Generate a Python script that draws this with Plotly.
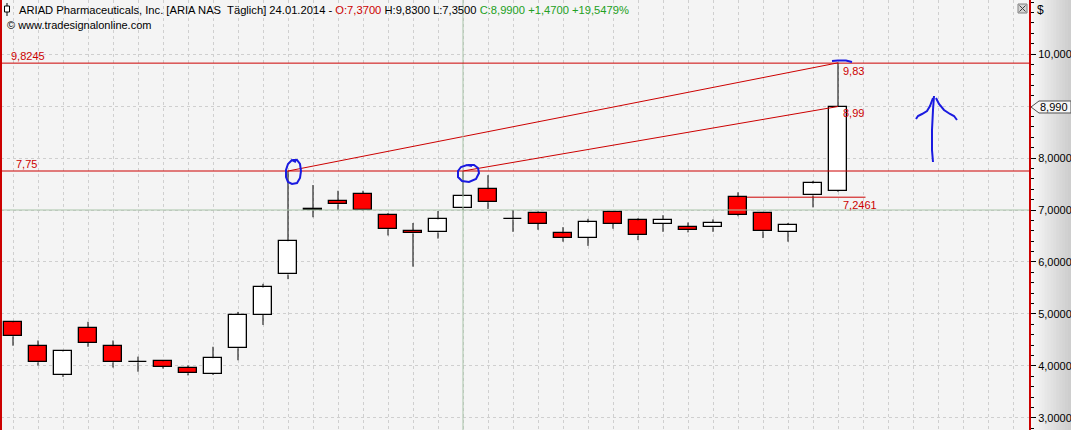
import plotly.graph_objects as go

# ---------------- data ----------------
opens  = [4.84, 4.38, 3.83, 4.74, 4.38, 4.07, 4.09, 3.96, 3.85, 4.34, 4.98, 5.76,
          7.00, 7.17, 7.31, 6.90, 6.60, 6.57, 7.03, 7.40, 6.82, 6.94, 6.55, 6.47,
          6.96, 6.80, 6.73, 6.67, 6.67, 7.2461, 6.94, 6.58, 7.28, 7.37]
highs  = [4.85, 4.49, 4.30, 4.85, 4.49, 4.18, 4.10, 4.01, 4.37, 5.04, 5.58, 7.75,
          7.48, 7.37, 7.37, 6.94, 6.75, 6.98, 7.75, 7.67, 7.00, 6.97, 6.67, 6.83,
          6.98, 6.84, 6.90, 6.76, 6.82, 7.34, 6.96, 6.75, 7.56, 9.83]
lows   = [4.39, 4.01, 3.79, 4.37, 3.97, 3.89, 3.95, 3.82, 3.83, 4.11, 4.79, 5.67,
          6.86, 7.00, 6.99, 6.51, 5.91, 6.45, 7.00, 7.02, 6.58, 6.62, 6.39, 6.31,
          6.64, 6.42, 6.58, 6.57, 6.58, 6.88, 6.46, 6.39, 7.05, 7.35]
closes = [4.57, 4.07, 4.28, 4.44, 4.07, 4.08, 3.98, 3.86, 4.15, 4.98, 5.51, 6.40,
          7.01, 7.11, 7.00, 6.63, 6.55, 6.82, 7.26, 7.15, 6.83, 6.73, 6.46, 6.76,
          6.73, 6.51, 6.81, 6.61, 6.75, 6.90, 6.59, 6.71, 7.51, 8.99]

level_top = 9.8245
level_mid = 7.75
level_low = 7.2461
cross_y = 7.0
cross_x = 18
trend_a = (11, 33)          # from high of candle 11 to high of candle 33
trend_b = (18, 33)          # from high of candle 18 to close of candle 33
level_low_idx = 29

ytick_vals = [3, 4, 5, 6, 7, 8, 9, 10]
ytick_text = ["3,0000", "4,0000", "5,0000", "6,0000", "7,0000", "8,0000", "", "10,000"]
last_price_label = "8,990"

# ---------------- geometry helpers (layout only) ----------------
W, H = 1071, 430
ML, MR = 1, 42
PW = W - ML - MR


def px(x):
    return (x - ML) / PW


def py(y):
    return 1 - y / H


n = len(opens)
idx = list(range(n))
X_RANGE = [-0.48, 40.64]
Y_RANGE = [2.769, 11.0385]

RED_LINE = "#cc0000"
RED_TXT = "#cc0000"
BLUE = "#1a1ae0"
GRID = "#cfcfcf"

fig = go.Figure()

# wicks (upper and lower parts so they never cross the bodies)
wx, wy = [], []
for i in idx:
    top = max(opens[i], closes[i])
    bot = min(opens[i], closes[i])
    wx += [i, i, None, i, i, None]
    wy += [top, highs[i], None, lows[i], bot, None]
fig.add_trace(go.Scatter(x=wx, y=wy, mode="lines",
                         line=dict(color="black", width=1),
                         hoverinfo="skip", showlegend=False))

# bodies
colors = []
for o, c in zip(opens, closes):
    if abs(c - o) < 0.02:
        colors.append("black")
    elif c > o:
        colors.append("white")
    else:
        colors.append("#ff0000")
fig.add_trace(go.Bar(x=idx,
                     base=[min(o, c) for o, c in zip(opens, closes)],
                     y=[abs(c - o) for o, c in zip(opens, closes)],
                     width=0.72,
                     marker=dict(color=colors, line=dict(color="black", width=1.3)),
                     showlegend=False, hoverinfo="skip"))

# trend lines
fig.add_trace(go.Scatter(x=[trend_a[0], trend_a[1]],
                         y=[highs[trend_a[0]], highs[trend_a[1]]],
                         mode="lines", line=dict(color=RED_LINE, width=1),
                         showlegend=False, hoverinfo="skip"))
fig.add_trace(go.Scatter(x=[trend_b[0], trend_b[1]],
                         y=[highs[trend_b[0]], closes[trend_b[1]]],
                         mode="lines", line=dict(color=RED_LINE, width=1),
                         showlegend=False, hoverinfo="skip"))

shapes = []
# right axis gradient panel
steps = 14
x0p = 1030
for k in range(steps):
    a = x0p + (W - x0p) * k / steps
    b = x0p + (W - x0p) * (k + 1) / steps
    g = int(248 - (248 - 206) * k / (steps - 1))
    shapes.append(dict(type="rect", xref="paper", yref="paper",
                       x0=px(a), x1=px(b) + 0.001, y0=0, y1=1,
                       fillcolor=f"rgb({g},{g},{g})", line=dict(width=0),
                       layer="below"))

# crosshair
shapes.append(dict(type="line", xref="paper", yref="y", x0=0, x1=1,
                   y0=cross_y, y1=cross_y, line=dict(color="#a9c4a9", width=1)))
shapes.append(dict(type="line", xref="x", yref="paper", x0=cross_x, x1=cross_x,
                   y0=0, y1=1, line=dict(color="#a9c4a9", width=1)))

# horizontal red levels
for lv in (level_top, level_mid):
    shapes.append(dict(type="line", xref="paper", yref="y", x0=0, x1=1,
                       y0=lv, y1=lv, line=dict(color=RED_LINE, width=1)))
shapes.append(dict(type="line", xref="x", yref="y",
                   x0=level_low_idx + 0.36, x1=n + 0.1,
                   y0=level_low, y1=level_low, line=dict(color=RED_LINE, width=1)))

# blue hand drawings (pixel paths)
def path_px(points):
    s = ""
    for k, (x, y) in enumerate(points):
        s += ("M" if k == 0 else "L") + f"{px(x):.5f},{py(y):.5f} "
    return s

circle1 = [(293, 160), (297, 160), (300, 164), (301, 171), (300, 178), (297, 183),
           (292, 184), (288, 182), (286, 177), (286, 170), (288, 164), (292, 160), (296, 162)]
circle2 = [(468, 165), (474, 165), (478, 168), (479, 173), (476, 179), (469, 182),
           (462, 181), (458, 177), (458, 171), (461, 167), (467, 165), (472, 166)]
dash = [(832, 61), (838, 60.5), (846, 60.5), (852, 62)]
shaft = [(934, 96), (933, 110), (932, 130), (932, 150), (933, 162)]
headL = [(933, 98), (930, 106), (927, 111), (922, 114), (918, 116), (916, 119)]
headR = [(936, 98), (939, 104), (944, 110), (950, 114), (954, 116), (957, 120)]
for pts in (circle1, circle2, dash, shaft, headL, headR):
    shapes.append(dict(type="path", xref="paper", yref="paper", path=path_px(pts),
                       line=dict(color=BLUE, width=2)))

# left red border
shapes.append(dict(type="line", xref="paper", yref="paper", x0=px(1), x1=px(1),
                   y0=0, y1=1, line=dict(color=RED_LINE, width=2)))

# candle icon in header
shapes.append(dict(type="line", xref="paper", yref="paper", x0=px(7), x1=px(7),
                   y0=py(3), y1=py(16), line=dict(color="black", width=1)))
shapes.append(dict(type="rect", xref="paper", yref="paper", x0=px(4.5), x1=px(9.5),
                   y0=py(6), y1=py(12), fillcolor="white", line=dict(color="black", width=1)))

# close box top right
shapes.append(dict(type="rect", xref="paper", yref="paper", x0=px(1018), x1=px(1027),
                   y0=py(4), y1=py(13), fillcolor="#d4d4d4", line=dict(color="#808080", width=1)))
shapes.append(dict(type="line", xref="paper", yref="paper", x0=px(1019.5), x1=px(1025.5),
                   y0=py(5.5), y1=py(11.5), line=dict(color="#404040", width=1)))
shapes.append(dict(type="line", xref="paper", yref="paper", x0=px(1019.5), x1=px(1025.5),
                   y0=py(11.5), y1=py(5.5), line=dict(color="#404040", width=1)))

# last price tag
shapes.append(dict(type="path", xref="paper", yref="paper",
                   path=path_px([(1031, 107), (1039, 101), (1071, 101), (1071, 113), (1039, 113)]) + "Z",
                   fillcolor="#f6f6f6", line=dict(color="#505050", width=1)))

FONT = "Liberation Sans, Arial, sans-serif"
annotations = []

header = ("ARIAD Pharmaceuticals, Inc. [ARIA NAS&nbsp; Täglich] 24.01.2014 - "
          "<span style='color:#cc0000'>O:7,3700</span> H:9,8300 L:7,3500 "
          "<span style='color:#22a022'>C:8,9900 +1,4700 +19,5479%</span>")
annotations.append(dict(xref="paper", yref="paper", x=px(17), y=py(9.5),
                        xanchor="left", yanchor="middle", text=header, showarrow=False,
                        font=dict(family=FONT, size=11.2, color="black")))
annotations.append(dict(xref="paper", yref="paper", x=px(5), y=py(25),
                        xanchor="left", yanchor="middle",
                        text="© www.tradesignalonline.com", showarrow=False,
                        font=dict(family=FONT, size=11, color="black")))
annotations.append(dict(xref="paper", yref="paper", x=px(1035), y=py(9.5),
                        xanchor="left", yanchor="middle", text="$", showarrow=False,
                        font=dict(family=FONT, size=12, color="black")))

# level labels
annotations.append(dict(xref="paper", yref="y", x=px(9), y=level_top, yshift=7,
                        xanchor="left", yanchor="middle", text="9,8245", showarrow=False,
                        font=dict(family=FONT, size=11, color=RED_TXT)))
annotations.append(dict(xref="paper", yref="y", x=px(14), y=level_mid, yshift=7,
                        xanchor="left", yanchor="middle", text="7,75", showarrow=False,
                        font=dict(family=FONT, size=11, color=RED_TXT)))
annotations.append(dict(xref="x", yref="y", x=n - 1, y=highs[-1], xshift=3, yshift=-8,
                        xanchor="left", yanchor="middle", text="9,83", showarrow=False,
                        font=dict(family=FONT, size=11, color=RED_TXT)))
annotations.append(dict(xref="x", yref="y", x=n - 1, y=closes[-1], xshift=3, yshift=-6,
                        xanchor="left", yanchor="middle", text="8,99", showarrow=False,
                        font=dict(family=FONT, size=11, color=RED_TXT)))
annotations.append(dict(xref="x", yref="y", x=n - 1, y=level_low, xshift=3, yshift=-8,
                        xanchor="left", yanchor="middle", text="7,2461", showarrow=False,
                        font=dict(family=FONT, size=11, color=RED_TXT)))
annotations.append(dict(xref="paper", yref="y", x=px(1070), y=closes[-1],
                        xanchor="right", yanchor="middle", text=last_price_label,
                        showarrow=False, font=dict(family=FONT, size=11, color="black")))

fig.update_layout(
    width=W, height=H,
    margin=dict(l=ML, r=MR, t=0, b=0, pad=0),
    paper_bgcolor="#f4f4f4", plot_bgcolor="#f4f4f4",
    showlegend=False, bargap=0,
    shapes=shapes, annotations=annotations,
    xaxis=dict(range=X_RANGE, tickvals=list(range(0, 41)), showticklabels=False,
               ticks="", showgrid=True, gridcolor=GRID, griddash="dot",
               gridwidth=1, zeroline=False, showline=False, fixedrange=True),
    yaxis=dict(range=Y_RANGE, side="right", tickvals=ytick_vals, ticktext=ytick_text,
               ticks="outside", ticklen=5, tickwidth=1, tickcolor="black",
               tickfont=dict(family=FONT, size=11, color="black"),
               showgrid=True, gridcolor=GRID, griddash="dot", gridwidth=1,
               zeroline=False, showline=True, linecolor=RED_LINE, linewidth=2,
               minor=dict(dtick=0.2, ticks="outside", ticklen=3, tickcolor="black",
                          showgrid=False),
               fixedrange=True),
)

fig.write_html("out.html", config={"displayModeBar": False},
               post_script="document.body.style.margin='0';document.body.style.overflow='hidden';")
